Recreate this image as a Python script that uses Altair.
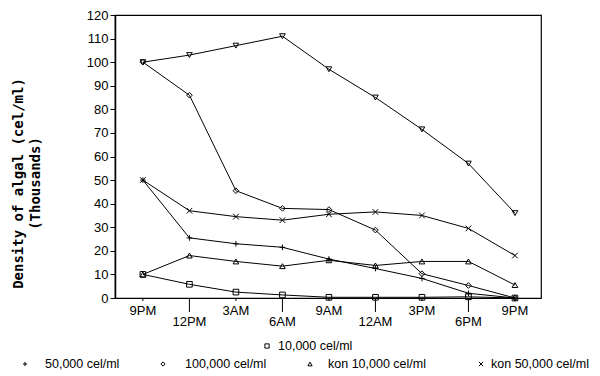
import altair as alt
import pandas as pd

times = ["9PM", "12PM", "3AM", "6AM", "9AM", "12AM", "3PM", "6PM", "9PM"]
series_names = ["10,000 cel/ml", "50,000 cel/ml", "100,000 cel/ml",
                "kon 10,000 cel/ml", "kon 50,000 cel/ml", "kon 100,000 cel/ml"]
s_10k = [10, 5.8, 2.5, 1.3, 0.3, 0.3, 0.3, 0.5, 0]
s_50k = [50, 25.5, 23, 21.5, 16.5, 12.5, 8.3, 2, 0]
s_100k = [100, 86, 45.5, 38, 37.5, 28.8, 10.3, 5.3, 0]
kon_10k = [10, 18, 15.5, 13.5, 16, 13.8, 15.5, 15.5, 5.5]
kon_50k = [50, 37, 34.5, 33, 35.5, 36.5, 35, 29.5, 18]
kon_100k = [100, 103, 107, 111, 97, 85, 71.5, 57, 36]
all_values = [s_10k, s_50k, s_100k, kon_10k, kon_50k, kon_100k]

PLUS = "M-1,0H1M0,-1V1"
XSHAPE = "M-1,-1L1,1M-1,1L1,-1"
shapes = ["square", PLUS, "diamond", "triangle-up", XSHAPE, "triangle-down"]

rows = []
for name, vals in zip(series_names, all_values):
    for i, v in enumerate(vals):
        rows.append({"idx": i, "time": times[i], "series": name, "value": v})
df = pd.DataFrame(rows)

lab_df = pd.DataFrame({"idx": list(range(len(times))), "label": times,
                       "row": [i % 2 for i in range(len(times))]})

W, H = 426, 283
FONT = "Liberation Sans"

xenc = alt.X("idx:Q", scale=alt.Scale(domain=[-0.6, 8.56], nice=False, zero=False),
             axis=alt.Axis(labels=False, ticks=False, grid=False, title="Time",
                           titleFont=FONT, titleFontSize=14, titleFontWeight="normal",
                           titleX=206, titleY=34, titleBaseline="middle", titleAlign="center",
                           domainWidth=1.5))
yenc = alt.Y("value:Q", scale=alt.Scale(domain=[0, 120], nice=False, zero=True),
             axis=alt.Axis(values=list(range(0, 121, 10)), grid=False, tickSize=5,
                           labelPadding=2, domainWidth=1.5,
                           title=["Density of algal (cel/ml)", "(Thousands)"],
                           titleFont="DejaVu Sans Mono", titleFontSize=14,
                           titleFontWeight="bold", titleAngle=270, titleAlign="center",
                           titleBaseline="top", titleX=-104, titleY=168,
                           titleLineHeight=17))

lines = alt.Chart(df).mark_line(color="black", strokeWidth=1).encode(
    x=xenc, y=yenc, detail="series:N")
points = alt.Chart(df).mark_point(filled=False, color="black", size=32, strokeWidth=1,
                                  opacity=1).encode(
    x=xenc, y=yenc,
    shape=alt.Shape("series:N", scale=alt.Scale(domain=series_names, range=shapes),
                    legend=None))

x_only = alt.X("idx:Q", scale=alt.Scale(domain=[-0.6, 8.56], nice=False, zero=False), axis=None)
ticks_short = alt.Chart(lab_df).transform_filter("datum.row == 0").mark_rule(
    color="black", strokeWidth=1).encode(x=x_only, y=alt.value(H), y2=alt.value(H + 3))
ticks_long = alt.Chart(lab_df).transform_filter("datum.row == 1").mark_rule(
    color="black", strokeWidth=1).encode(x=x_only, y=alt.value(H), y2=alt.value(H + 14))
labels_top = alt.Chart(lab_df).transform_filter("datum.row == 0").mark_text(
    font=FONT, fontSize=13, baseline="middle", color="black").encode(
    x=x_only, y=alt.value(H + 13), text="label:N")
labels_bot = alt.Chart(lab_df).transform_filter("datum.row == 1").mark_text(
    font=FONT, fontSize=13, baseline="middle", color="black").encode(
    x=x_only, y=alt.value(H + 24), text="label:N")

# manual legend layout (symbol x, text x, row y) in pixels
legend_pos = [(152, 163, 331), (-90, -70, 349), (48, 70, 349), (195, 213, 349), (366, 376, 349)]
legend_layers = []
for (sx, tx, ly), name, shp in zip(legend_pos, series_names[:5], shapes[:5]):
    one = pd.DataFrame({"series": [name]})
    legend_layers.append(alt.Chart(one).mark_point(
        shape=shp, filled=False, color="black", size=18, strokeWidth=1, opacity=1).encode(
        x=alt.value(sx), y=alt.value(ly)))
    legend_layers.append(alt.Chart(one).mark_text(
        font=FONT, fontSize=12.5, align="left", baseline="middle", color="black").encode(
        x=alt.value(tx), y=alt.value(ly), text="series:N"))

chart = alt.layer(lines, points, ticks_short, ticks_long, labels_top, labels_bot,
                  *legend_layers).properties(
    width=W, height=H,
    autosize=alt.AutoSizeParams(type="none"),
    padding={"left": 107, "top": 7, "right": 50, "bottom": 78},
).configure_view(stroke="black", strokeWidth=1.2).configure_axis(
    labelFont=FONT, labelFontSize=13, labelColor="black", domainColor="black",
    tickColor="black", titleColor="black")

chart.save("out.html", embed_options={"renderer": "svg", "actions": False})
